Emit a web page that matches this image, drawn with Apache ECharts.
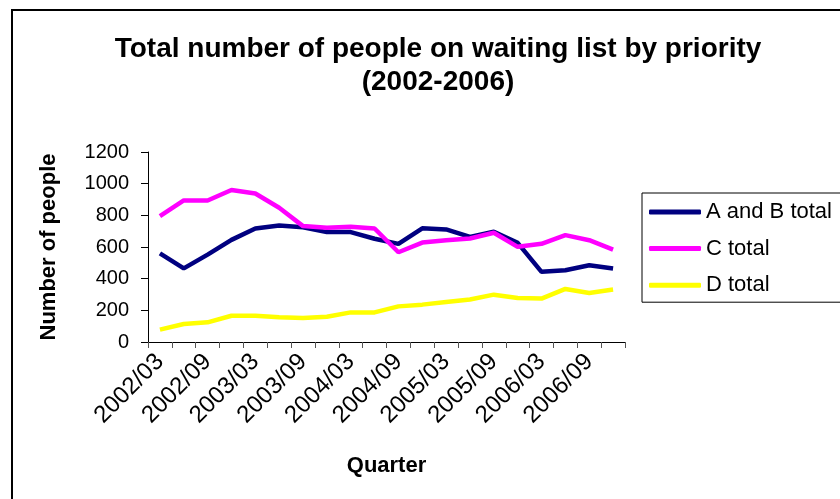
<!DOCTYPE html>
<html>
<head>
<meta charset="utf-8">
<script src="https://cdn.jsdelivr.net/npm/echarts@6/dist/echarts.min.js"></script>
<style>
html,body{margin:0;padding:0;background:#fff;}
#chart{width:840px;height:499px;}
</style>
</head>
<body>
<div id="chart"></div>
<script>
const quarters = ['2002/03','2002/06','2002/09','2002/12','2003/03','2003/06','2003/09','2003/12',
  '2004/03','2004/06','2004/09','2004/12','2005/03','2005/06','2005/09','2005/12',
  '2006/03','2006/06','2006/09','2006/12'];
const abTotal = [560, 465, 552, 645, 717, 736, 725, 694, 694, 652, 620, 718, 711, 664, 696, 626, 443, 453, 485, 464];
const cTotal  = [795, 894, 894, 960, 938, 848, 732, 721, 728, 717, 567, 628, 643, 654, 690, 601, 620, 675, 643, 584];
const dTotal  = [78, 114, 124, 166, 166, 156, 152, 160, 187, 187, 225, 236, 253, 268, 299, 278, 274, 335, 310, 331];
const seriesNames = ['A and B total', 'C total', 'D total'];
const yTicks = {min: 0, max: 1200, interval: 200};

const FONT = '"Liberation Sans", Arial, sans-serif';
const chart = echarts.init(document.getElementById('chart'), null, {renderer: 'canvas'});
const colors = ['#000080', '#FF00FF', '#FFFF00'];
const data = [abTotal, cTotal, dTotal];

chart.setOption({
  animation: false,
  backgroundColor: '#fff',
  color: colors,
  title: {
    text: 'Total number of people on waiting list by priority\n(2002-2006)',
    left: 433, top: 28, textAlign: 'center',
    textStyle: {fontFamily: FONT, fontSize: 28, fontWeight: 'bold', color: '#000', lineHeight: 33}
  },
  graphic: [
    {type: 'rect', shape: {x: 12, y: 10, width: 900, height: 600},
     style: {fill: 'none', stroke: '#000', lineWidth: 2}, z: 100, silent: true}
  ],
  legend: {
    orient: 'vertical',
    left: 642, top: 193,
    padding: [8, 90, 6, 7],
    itemGap: 14.6,
    itemWidth: 52, itemHeight: 5,
    icon: 'roundRect',
    borderColor: '#000', borderWidth: 1,
    textStyle: {fontFamily: FONT, fontSize: 22, color: '#000', lineHeight: 22},
    data: seriesNames
  },
  grid: {left: 148, right: 215, top: 152, bottom: 157, containLabel: false},
  xAxis: {
    type: 'category',
    data: quarters,
    boundaryGap: true,
    name: 'Quarter',
    nameLocation: 'middle',
    nameGap: 113,
    nameTextStyle: {fontFamily: FONT, fontSize: 22, fontWeight: 'bold', color: '#000'},
    axisLine: {lineStyle: {color: '#000', width: 1}},
    axisTick: {show: true, interval: 0, length: 6, lineStyle: {color: '#555'}},
    axisLabel: {interval: 1, rotate: 45, fontFamily: FONT, fontSize: 24, color: '#000', margin: 16}
  },
  yAxis: {
    type: 'value',
    min: yTicks.min, max: yTicks.max, interval: yTicks.interval,
    name: 'Number of people',
    nameLocation: 'middle',
    nameRotate: 90,
    nameGap: 88,
    nameTextStyle: {fontFamily: FONT, fontSize: 22, fontWeight: 'bold', color: '#000'},
    axisLine: {show: true, lineStyle: {color: '#000', width: 1}},
    axisTick: {show: true, length: 7, lineStyle: {color: '#000'}},
    splitLine: {show: false},
    axisLabel: {fontFamily: FONT, fontSize: 20, color: '#000', margin: 19, formatter: v => String(v)}
  },
  series: seriesNames.map((n, i) => ({
    name: n,
    type: 'line',
    data: data[i],
    symbol: 'none',
    lineStyle: {width: 4.5, color: colors[i]},
    itemStyle: {color: colors[i]}
  }))
});
</script>
</body>
</html>
